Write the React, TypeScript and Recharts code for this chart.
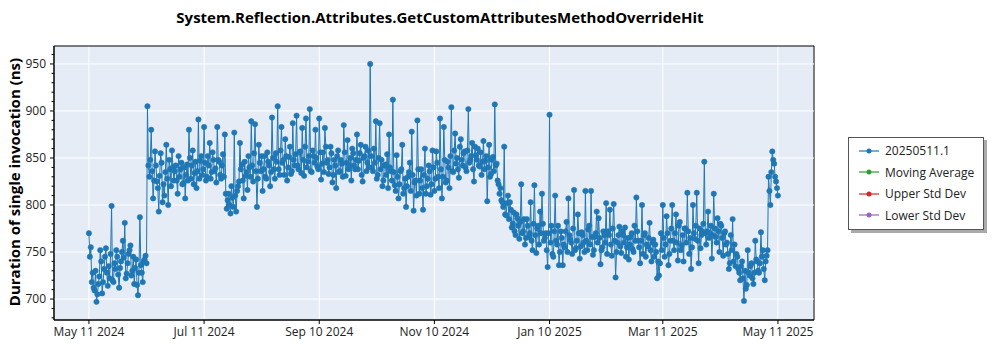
import { LineChart, Line, XAxis, YAxis, CartesianGrid, ReferenceArea, ReferenceLine } from "recharts";

// days since May 11 2024
const xTickDays = [0, 61, 122, 183, 244, 304, 365];
const xTickLabels = ["May 11 2024", "Jul 11 2024", "Sep 10 2024", "Nov 10 2024", "Jan 10 2025", "Mar 11 2025", "May 11 2025"];
const yTicks = [700, 750, 800, 850, 900, 950];

// first run of each day, ns
const runsA = [
  770, 755, 728, 709, 697, 716, 752, 706, 732, 754,
  714, 722, 799, 718, 732, 745, 712, 740, 762, 781,
  727, 748, 757, 730, 716, 742, 704, 787, 728, 740,
  746, 905, 830, 880, 807, 857, 825, 793, 855, 803,
  810, 864, 800, 838, 858, 826, 842, 812, 830, 845,
  823, 807, 843, 880, 828, 858, 834, 818, 891, 847,
  832, 883, 826, 852, 866, 835, 848, 839, 883, 846,
  828, 854, 875, 796, 812, 791, 808, 877, 793, 820,
  866, 843, 807, 831, 816, 840, 889, 825, 886, 798,
  864, 836, 815, 852, 828, 846, 820, 893, 838, 855,
  905, 832, 883, 848, 870, 826, 851, 833, 887, 842,
  895, 838, 857, 882, 831, 892, 846, 902, 835, 852,
  880, 841, 892, 827, 856, 882, 845, 833, 862, 824,
  848, 818, 858, 836, 844, 885, 831, 869, 842, 826,
  855, 838, 875, 847, 864, 825, 852, 836, 858, 950,
  840, 860, 889, 832, 887, 848, 826, 843, 854, 875,
  836, 912, 821, 853, 807, 836, 864, 818, 798, 830,
  845, 878, 794, 826, 890, 812, 838, 795, 860, 820,
  842, 811, 858, 815, 857, 830, 892, 807, 883, 824,
  846, 818, 904, 835, 876, 850, 829, 870, 842, 857,
  836, 902, 848, 866, 825, 853, 860, 841, 832, 868,
  847, 804, 864, 833, 851, 907, 844, 822, 818, 803,
  862, 789, 810, 803, 776, 792, 768, 786, 764, 822,
  772, 758, 785, 766, 803, 752, 821, 749, 778, 793,
  812, 762, 770, 734, 896, 778, 745, 810, 758, 736,
  772, 736, 755, 782, 807, 763, 748, 816, 754, 790,
  743, 771, 760, 815, 752, 778, 815, 747, 766, 793,
  786, 737, 755, 768, 802, 772, 795, 746, 801, 723,
  760, 777, 749, 768, 776, 755, 742, 766, 753, 778,
  808, 762, 738, 800, 768, 745, 756, 781, 740, 763,
  758, 722, 725, 770, 800, 745, 788, 736, 762, 800,
  752, 790, 741, 782, 757, 740, 775, 813, 748, 732,
  800, 764, 813, 738, 754, 772, 846, 758, 793, 770,
  743, 812, 766, 786, 750, 778, 746, 772, 760, 732,
  768, 785, 758, 748, 732, 720, 740, 698, 711, 752,
  725, 738, 716, 762, 740, 728, 771, 752, 720, 746,
  830, 800, 857, 844, 825, 810,
];

// second run of each day (half a day later), ns
const runsB = [
  745, 718, 712, 730, 705, 724, 740, 718, 745, 728,
  735, 748, 720, 738, 752, 726, 733, 750, 744, 722,
  738, 752, 725, 745, 733, 715, 728, 736, 718, 742,
  738, 842, 848, 836, 826, 842, 818, 831, 845, 822,
  835, 828, 848, 820, 840, 836, 826, 852, 838, 822,
  840, 832, 826, 850, 842, 822, 846, 836, 828, 852,
  838, 845, 830, 842, 828, 856, 836, 824, 848, 832,
  842, 830, 812, 805, 800, 820, 798, 810, 815, 825,
  838, 826, 846, 835, 852, 830, 842, 855, 836, 828,
  845, 852, 838, 830, 856, 842, 835, 850, 828, 846,
  838, 858, 845, 832, 852, 840, 862, 836, 848, 854,
  842, 856, 834, 848, 862, 840, 852, 836, 858, 845,
  850, 838, 856, 844, 835, 862, 848, 840, 855, 832,
  842, 852, 835, 848, 830, 856, 845, 838, 850, 860,
  842, 848, 838, 855, 832, 850, 862, 845, 840, 852,
  836, 845, 828, 850, 838, 820, 842, 832, 818, 840,
  826, 835, 815, 830, 822, 838, 812, 828, 820, 835,
  815, 832, 824, 810, 838, 826, 818, 832, 812, 828,
  836, 822, 840, 828, 845, 818, 838, 830, 848, 826,
  840, 852, 836, 858, 844, 838, 862, 848, 855, 840,
  858, 845, 852, 838, 862, 848, 842, 856, 846, 838,
  852, 840, 830, 848, 836, 842, 826, 812, 805, 798,
  790, 802, 785, 795, 780, 772, 790, 778, 782, 770,
  785, 765, 778, 770, 762, 780, 768, 775, 758, 770,
  780, 765, 752, 770, 760, 748, 772, 762, 778, 750,
  765, 758, 772, 750, 768, 760, 775, 752, 762, 770,
  756, 768, 750, 762, 774, 758, 766, 752, 770, 760,
  765, 752, 772, 760, 748, 768, 758, 775, 762, 750,
  768, 756, 772, 760, 745, 765, 758, 770, 750, 762,
  772, 755, 762, 748, 770, 758, 765, 752, 760, 745,
  750, 740, 738, 752, 765, 758, 770, 748, 775, 762,
  770, 760, 778, 752, 768, 775, 760, 772, 765, 755,
  770, 778, 762, 775, 768, 780, 770, 772, 765, 778,
  768, 775, 760, 772, 780, 765, 770, 758, 748, 738,
  752, 740, 735, 745, 728, 735, 722, 730, 715, 728,
  735, 722, 728, 742, 730, 738, 745, 732, 740, 752,
  815, 835, 848, 830, 818, 812,
];

const seriesNames = ["20250511.1", "Moving Average", "Upper Std Dev", "Lower Std Dev"];
const seriesColors = ["#1f77b4", "#2ca02c", "#d62728", "#9467bd"];

const xDomain: [number, number] = [-18.5, 384.1];
const yDomain: [number, number] = [677.7, 969.1];

const data = runsA.flatMap((v, i) => {
  const pts = [{ day: i, value: v }];
  if (runsB[i] !== undefined && i < runsA.length - 1) pts.push({ day: i + 0.5, value: runsB[i] });
  return pts;
});

const minorTicks: number[] = [];
for (let v = 680; v <= 960; v += 10) minorTicks.push(v);

const font = "'Open Sans', 'Noto Sans', sans-serif";

function YTick(props: any) {
  const { x, y, payload } = props;
  const v = payload.value;
  const major = v % 50 === 0;
  const ax = x + 8;
  return (
    <g>
      <line x1={ax} x2={ax - (major ? 4 : 2.5)} y1={y} y2={y} stroke="#000" />
      {major && (
        <text x={x} y={y} dy={4} textAnchor="end" fontSize={12} fill="#222" fontFamily={font}>
          {v}
        </text>
      )}
    </g>
  );
}

function ChartLegend() {
  return (
    <div
      style={{
        position: "absolute",
        left: 848,
        top: 137,
        width: 134,
        height: 89,
        border: "1px solid #555",
        background: "#fff",
        boxShadow: "3px 3px 0 #aaa",
        fontFamily: font,
        fontSize: 12,
        color: "#222",
        paddingTop: 2,
        boxSizing: "content-box",
      }}
    >
      {seriesNames.map((name, i) => (
        <div key={name} style={{ display: "flex", alignItems: "center", height: 21.5 }}>
          <svg width={36} height={10} style={{ flex: "none" }}>
            <line x1={10} x2={30} y1={5} y2={5} stroke={seriesColors[i]} strokeWidth={1.2} />
            <circle cx={20} cy={5} r={2.5} fill={seriesColors[i]} />
          </svg>
          <span>{name}</span>
        </div>
      ))}
    </div>
  );
}

export default function App() {
  return (
    <div style={{ position: "absolute", left: 0, top: 0, width: 1000, height: 350, background: "#fff" }}>
      <div
        style={{
          position: "absolute",
          left: 0,
          width: 880,
          top: 7,
          textAlign: "center",
          fontFamily: font,
          fontWeight: 700,
          fontSize: 15,
          color: "#000",
        }}
      >
        System.Reflection.Attributes.GetCustomAttributesMethodOverrideHit
      </div>
      <div
        style={{
          position: "absolute",
          left: 14,
          top: 182,
          transform: "translate(-50%, -50%) rotate(-90deg)",
          whiteSpace: "nowrap",
          fontFamily: font,
          fontWeight: 700,
          fontSize: 15,
          color: "#000",
        }}
      >
        Duration of single invocation (ns)
      </div>
      <LineChart width={1000} height={350} data={data} margin={{ top: 46, right: 186, bottom: 0, left: 0 }}>
        <CartesianGrid fill="#e5ecf6" stroke="#fff" strokeWidth={1} horizontal={false} />
        <XAxis
          type="number"
          dataKey="day"
          domain={xDomain}
          allowDataOverflow
          ticks={xTickDays}
          tickFormatter={(v: number) => xTickLabels[xTickDays.indexOf(v)] ?? ""}
          height={30}
          tickSize={4}
          tickMargin={3}
          axisLine={{ stroke: "#000" }}
          tickLine={{ stroke: "#000" }}
          tick={{ fontSize: 12, fill: "#222", fontFamily: font }}
        />
        <YAxis
          type="number"
          domain={yDomain}
          allowDataOverflow
          ticks={minorTicks}
          interval={0}
          width={54}
          tickSize={5}
          tickMargin={3}
          tickLine={false}
          axisLine={{ stroke: "#000" }}
          tick={<YTick />}
        />
        {yTicks.map((v) => (
          <ReferenceLine key={v} y={v} stroke="#fff" strokeWidth={1} />
        ))}
        <ReferenceArea x1={xDomain[0]} x2={xDomain[1]} y1={yDomain[0]} y2={yDomain[1]} fill="none" stroke="#000" strokeWidth={1} />
        <Line
          type="linear"
          dataKey="value"
          name={seriesNames[0]}
          stroke={seriesColors[0]}
          strokeWidth={1}
          dot={{ r: 2.7, fill: seriesColors[0], stroke: seriesColors[0], strokeWidth: 0.5 }}
          isAnimationActive={false}
        />
      </LineChart>
      <ChartLegend />
    </div>
  );
}
